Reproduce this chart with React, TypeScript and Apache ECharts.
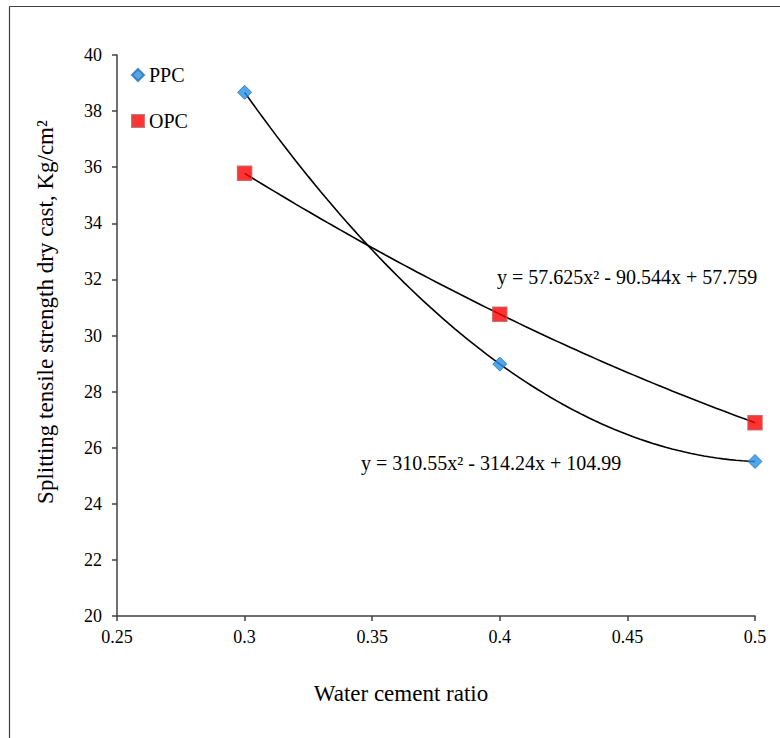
import React, { useEffect, useRef } from "react";
import * as echarts from "echarts";

const xValues = [0.3, 0.4, 0.5];
const ppcValues = [38.67, 28.98, 25.51];
const opcValues = [35.78, 30.76, 26.89];
// displayed trendline coefficients [a, b, c] for y = a x^2 + b x + c
const ppcCoef = [310.55, -314.24, 104.99];
const opcCoef = [57.625, -90.544, 57.759];
const xTicks = [0.25, 0.3, 0.35, 0.4, 0.45, 0.5];
const yTicks = [20, 22, 24, 26, 28, 30, 32, 34, 36, 38, 40];

const FONT = "Liberation Serif";

function trend(coef: number[]) {
  const pts: number[][] = [];
  const x0 = xValues[0];
  const x1 = xValues[xValues.length - 1];
  const n = 80;
  for (let i = 0; i <= n; i++) {
    const x = x0 + ((x1 - x0) * i) / n;
    pts.push([x, coef[0] * x * x + coef[1] * x + coef[2]]);
  }
  return pts;
}

const tickRich = { t: { fontFamily: FONT, fontSize: 18, color: "#000" } };

export default function App() {
  const ref = useRef<HTMLDivElement>(null);
  useEffect(() => {
    const chart = echarts.init(ref.current!, null, { renderer: "svg" });
    chart.setOption({
      animation: false,
      backgroundColor: "#ffffff",
      textStyle: { fontFamily: FONT, color: "#000" },
      grid: { left: 117, right: 25, top: 55, bottom: 122, containLabel: false },
      legend: {
        data: [
          { name: "PPC", icon: "diamond" },
          { name: "OPC", icon: "rect" },
        ],
        orient: "vertical",
        left: 131,
        top: 65,
        padding: 0,
        itemWidth: 12,
        itemHeight: 12,
        itemGap: 26,
        textStyle: { fontFamily: FONT, fontSize: 20, color: "#000" },
      },
      xAxis: {
        type: "value",
        min: xTicks[0],
        max: xTicks[xTicks.length - 1],
        interval: 0.05,
        splitLine: { show: false },
        axisLine: { lineStyle: { color: "#404040", width: 1.5 } },
        axisTick: { length: 5, lineStyle: { color: "#404040", width: 1.5 } },
        axisLabel: {
          margin: 12,
          fontFamily: FONT,
          fontSize: 18,
          color: "#000",
          formatter: (v: number) => "{t|" + String(+v.toFixed(2)) + "}",
          rich: tickRich,
        },
      },
      yAxis: {
        type: "value",
        min: yTicks[0],
        max: yTicks[yTicks.length - 1],
        interval: 2,
        splitLine: { show: false },
        axisLine: { show: true, lineStyle: { color: "#404040", width: 1.5 } },
        axisTick: { show: true, length: 5, lineStyle: { color: "#404040", width: 1.5 } },
        axisLabel: {
          margin: 15,
          fontFamily: FONT,
          fontSize: 18,
          color: "#000",
          formatter: (v: number) => "{t|" + String(v) + "}",
          rich: tickRich,
        },
      },
      series: [
        {
          name: "PPC trend",
          type: "line",
          data: trend(ppcCoef),
          showSymbol: false,
          symbol: "none",
          lineStyle: { color: "#000", width: 1.6 },
          z: 2,
          silent: true,
        },
        {
          name: "OPC trend",
          type: "line",
          data: trend(opcCoef),
          showSymbol: false,
          symbol: "none",
          lineStyle: { color: "#000", width: 1.6 },
          z: 2,
          silent: true,
        },
        {
          name: "PPC",
          type: "scatter",
          symbol: "diamond",
          symbolSize: 14,
          data: xValues.map((x, i) => [x, ppcValues[i]]),
          itemStyle: { color: "#2492E6", borderColor: "#2A6FB0", borderWidth: 1 },
          z: 3,
        },
        {
          name: "OPC",
          type: "scatter",
          symbol: "rect",
          symbolSize: 14,
          data: xValues.map((x, i) => [x, opcValues[i]]),
          itemStyle: { color: "#FF0000", borderColor: "#C8504E", borderWidth: 1.5 },
          z: 3,
        },
      ],
      graphic: [
        {
          type: "line",
          shape: { x1: 9.5, y1: 6.5, x2: 800, y2: 6.5 },
          style: { stroke: "#404040", lineWidth: 1.2 },
        },
        {
          type: "line",
          shape: { x1: 9.5, y1: 6.5, x2: 9.5, y2: 800 },
          style: { stroke: "#404040", lineWidth: 1.2 },
        },
        {
          type: "text",
          x: 45,
          y: 312,
          rotation: Math.PI / 2,
          style: {
            text: "Splitting tensile strength dry cast, Kg/cm²",
            fontFamily: FONT,
            fontSize: 23,
            fill: "#000",
            align: "center",
            verticalAlign: "middle",
          },
        },
        {
          type: "text",
          x: 401,
          y: 693,
          style: {
            text: "Water cement ratio",
            fontFamily: FONT,
            fontSize: 23,
            fill: "#000",
            align: "center",
            verticalAlign: "middle",
          },
        },
        {
          type: "text",
          x: 497,
          y: 277,
          style: {
            text: "y = 57.625x² - 90.544x + 57.759",
            fontFamily: FONT,
            fontSize: 20,
            fill: "#000",
            align: "left",
            verticalAlign: "middle",
          },
        },
        {
          type: "text",
          x: 361,
          y: 463,
          style: {
            text: "y = 310.55x² - 314.24x + 104.99",
            fontFamily: FONT,
            fontSize: 20,
            fill: "#000",
            align: "left",
            verticalAlign: "middle",
          },
        },
      ],
    });
    return () => chart.dispose();
  }, []);
  return (
    <div
      ref={ref}
      style={{ position: "absolute", left: 0, top: 0, width: 780, height: 738 }}
    />
  );
}
